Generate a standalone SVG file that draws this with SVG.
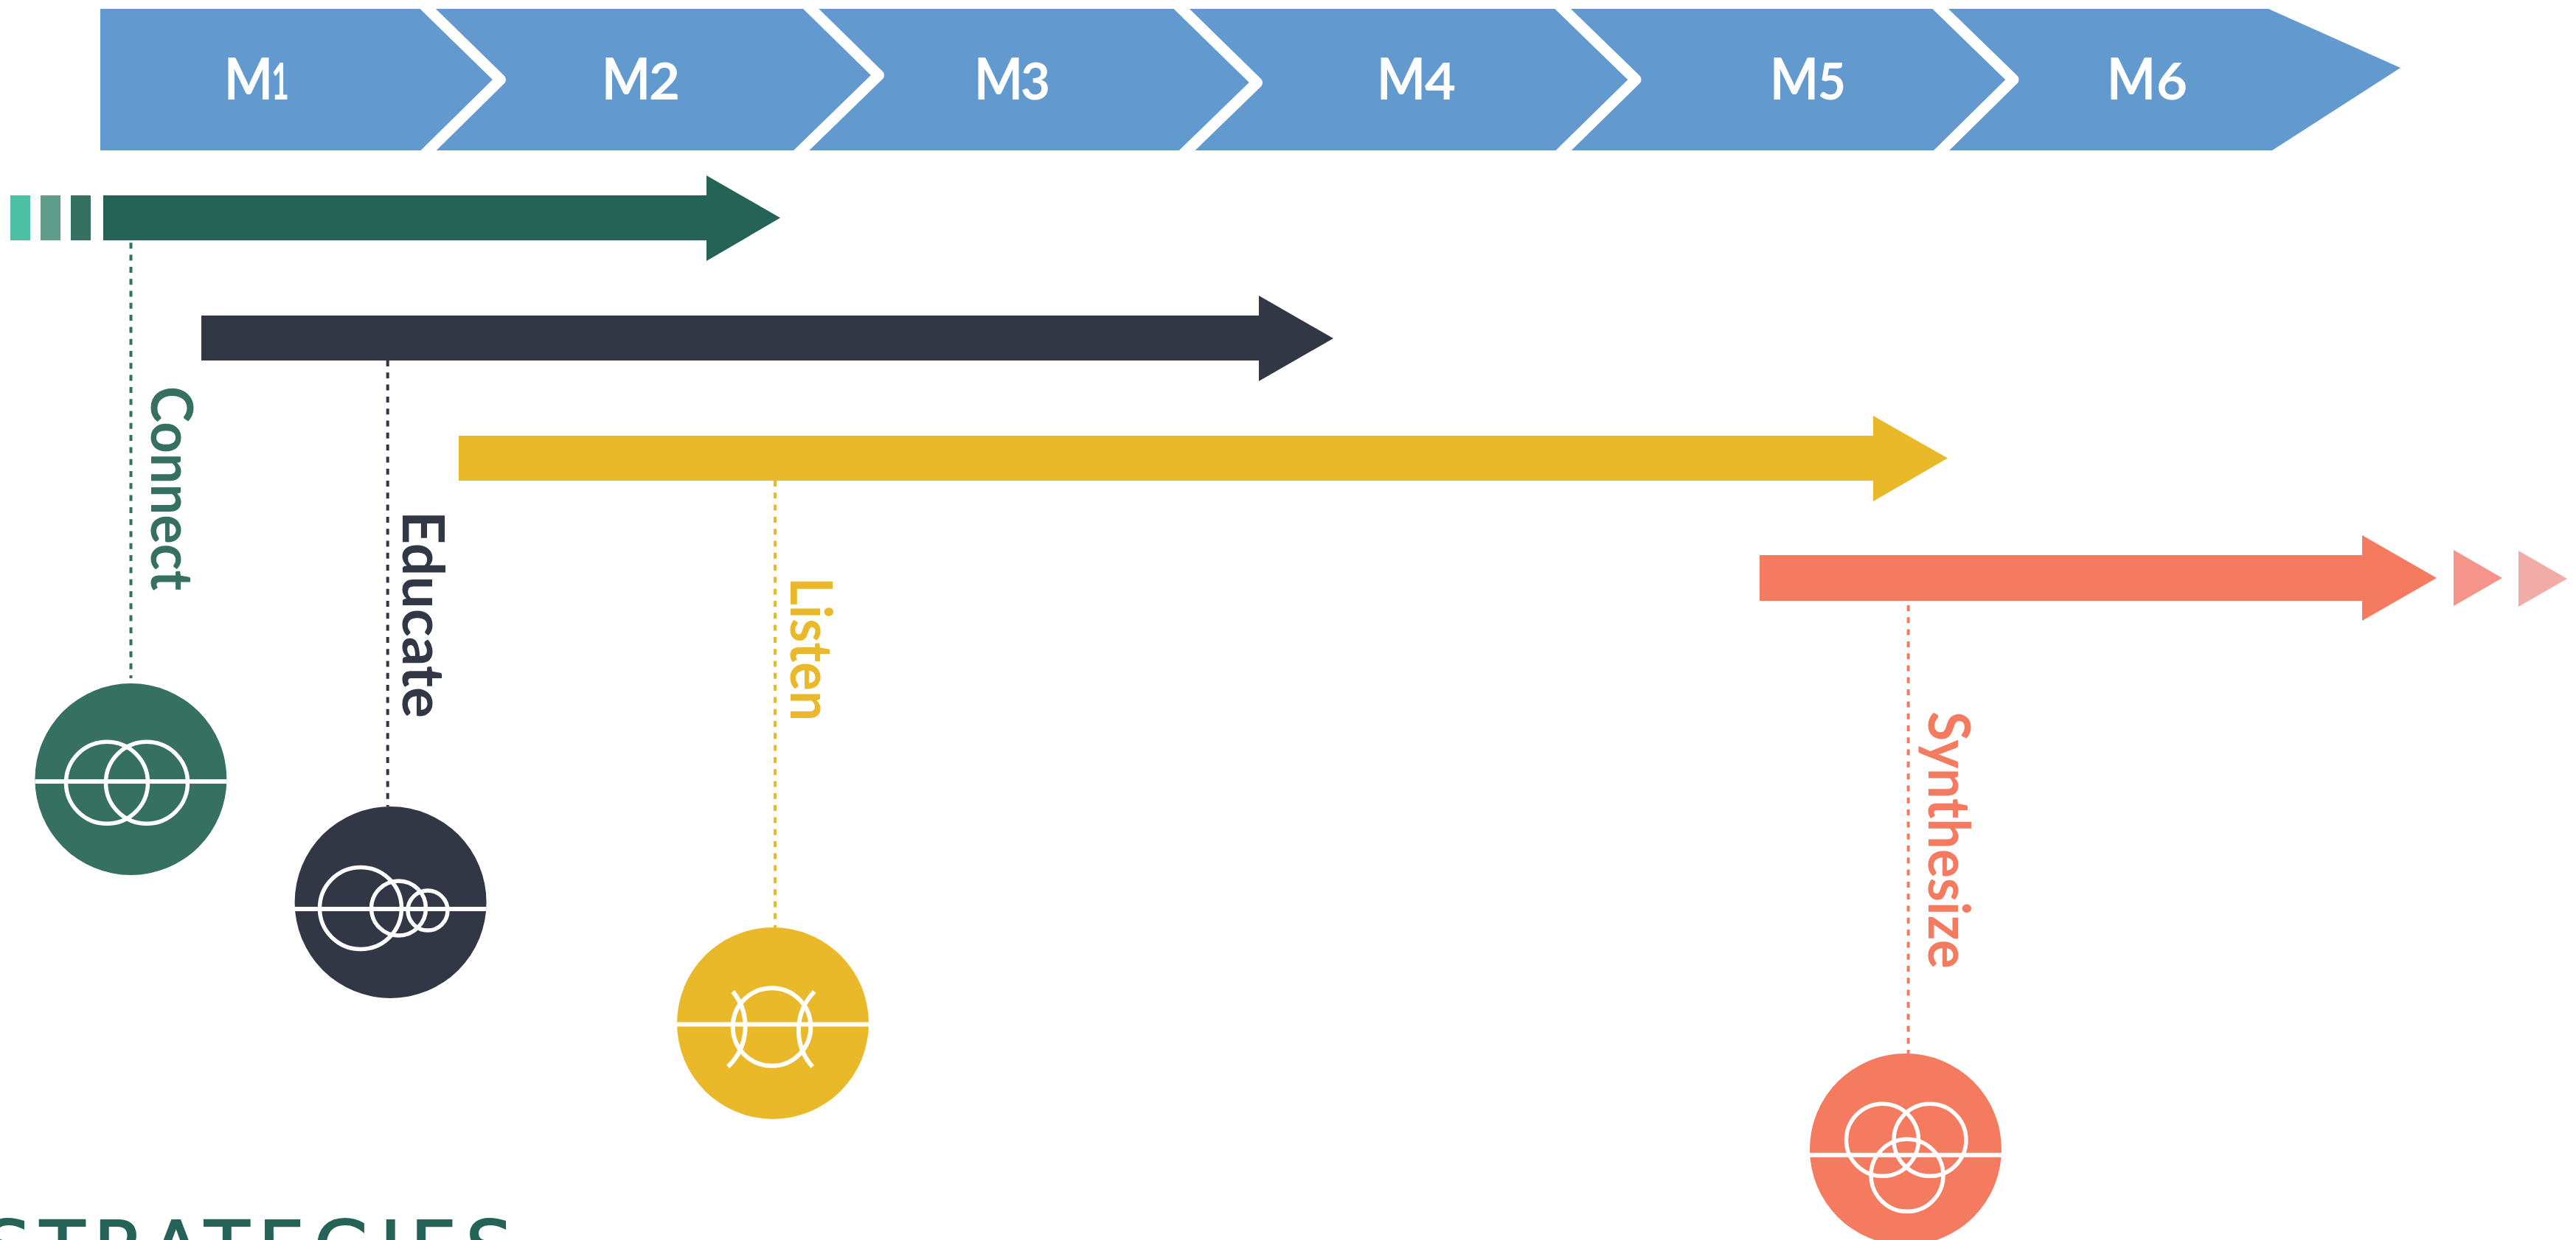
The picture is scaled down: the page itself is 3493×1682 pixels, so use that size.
<svg xmlns="http://www.w3.org/2000/svg" width="3493" height="1682" viewBox="0 0 3493 1682">
<style>
.seg{fill:#629ACF}
.sep{fill:none;stroke:#fff;stroke-width:15;stroke-linejoin:round}
.m{font-family:Lato,"Open Sans",sans-serif;font-weight:700;font-size:78px;fill:#fff}
.d{font-size:68px}
.lab{font-family:Lato,"Open Sans",sans-serif;font-weight:700;font-size:78px}
.ic{fill:none;stroke:#fff;stroke-width:5.5}
.bar{stroke:#fff;stroke-width:6}
.dash{fill:none;stroke-width:4;stroke-dasharray:8 8.3}
.green{fill:#357060}.dark{fill:#313744}.yellow{fill:#E9B929}.coral{fill:#F47A60}
</style>
<rect width="3493" height="1682" fill="#fff"/>
<g id="timeline">
<g id="m1"><polygon class="seg" points="136,12 579.5,12 678.5,108 581,204 136,204"/><text class="m"><tspan x="304" y="135" textLength="66" lengthAdjust="spacingAndGlyphs">M</tspan><tspan class="d" x="368" y="135" textLength="24" lengthAdjust="spacingAndGlyphs">1</tspan></text></g>
<g id="m2"><polygon class="seg" points="579.5,12 1099.5,12 1191.5,102 1086.5,204 581,204 678.5,108"/><text class="m"><tspan x="816" y="135" textLength="66" lengthAdjust="spacingAndGlyphs">M</tspan><tspan class="d" x="880" y="135" textLength="42" lengthAdjust="spacingAndGlyphs">2</tspan></text></g>
<g id="m3"><polygon class="seg" points="1099.5,12 1602,12 1704.5,112 1609.5,204 1086.5,204 1191.5,102"/><text class="m"><tspan x="1321" y="135" textLength="66" lengthAdjust="spacingAndGlyphs">M</tspan><tspan class="d" x="1384" y="135" textLength="40" lengthAdjust="spacingAndGlyphs">3</tspan></text></g>
<g id="m4"><polygon class="seg" points="1602,12 2119,12 2218,108 2120,204 1609.5,204 1704.5,112"/><text class="m"><tspan x="1867" y="135" textLength="66" lengthAdjust="spacingAndGlyphs">M</tspan><tspan class="d" x="1932" y="135" textLength="42" lengthAdjust="spacingAndGlyphs">4</tspan></text></g>
<g id="m5"><polygon class="seg" points="2119,12 2631,12 2730,108 2632.5,204 2120,204 2218,108"/><text class="m"><tspan x="2400" y="135" textLength="66" lengthAdjust="spacingAndGlyphs">M</tspan><tspan class="d" x="2465" y="135" textLength="38" lengthAdjust="spacingAndGlyphs">5</tspan></text></g>
<g id="m6"><polygon class="seg" points="2631,12 3076,12 3255,92 3081,204 2632.5,204 2730,108"/><text class="m"><tspan x="2857" y="135" textLength="66" lengthAdjust="spacingAndGlyphs">M</tspan><tspan class="d" x="2924" y="135" textLength="42" lengthAdjust="spacingAndGlyphs">6</tspan></text></g>
<g id="separators">
<polyline class="sep" points="573,5 678.5,108 574,211"/>
<polyline class="sep" points="1092.5,5 1191.5,102 1079.5,211"/>
<polyline class="sep" points="1595,5 1704.5,112 1602.5,211"/>
<polyline class="sep" points="2112,5 2218,108 2113,211"/>
<polyline class="sep" points="2624,5 2730,108 2625.5,211"/>
</g>
</g>
<g id="connectors">
<line class="dash" x1="177.5" y1="313" x2="177.5" y2="920" stroke="#357060"/>
<line class="dash" x1="525.7" y1="489" x2="525.7" y2="1094" stroke="#313744"/>
<line class="dash" x1="1051" y1="652" x2="1051" y2="1258" stroke="#E9B929"/>
<line class="dash" x1="2587.6" y1="821" x2="2587.6" y2="1429" stroke="#F47A60"/>
</g>
<g id="arrow-connect">
<rect x="14" y="265" width="27" height="61" fill="#4DBFA3"/>
<rect x="55" y="265" width="27" height="61" fill="#5F9C8A"/>
<rect x="96" y="265" width="27" height="61" fill="#357060"/>
<polygon fill="#246356" points="140,265 958,265 958,238 1058,295.5 958,354 958,326 140,326"/>
</g>
<g id="arrow-educate"><polygon class="dark" points="273,428 1707,428 1707,401 1808,459 1707,517 1707,489 273,489"/></g>
<g id="arrow-listen"><polygon class="yellow" points="622,591 2540,591 2540,564 2641,621.5 2540,680 2540,652 622,652"/></g>
<g id="arrow-synthesize">
<polygon class="coral" points="2386,753 3203,753 3203,726 3304,784 3203,842 3203,815 2386,815"/>
<polygon fill="#F4948A" points="3327,746 3393,784 3327,822"/>
<polygon fill="#F2ACA8" points="3415,747 3481,785 3415,823"/>
</g>
<g id="connect">
<text class="lab green" transform="translate(205,524) rotate(90)" textLength="277" lengthAdjust="spacingAndGlyphs">Connect</text>
<circle class="green" cx="177.4" cy="1057" r="130"/>
<line class="bar" x1="47.5" y1="1060" x2="307.5" y2="1060"/>
<circle class="ic" cx="145" cy="1061.7" r="55.5"/>
<circle class="ic" cx="199" cy="1061.7" r="55.5"/>
</g>
<g id="educate">
<text class="lab dark" transform="translate(546,693) rotate(90)" textLength="281" lengthAdjust="spacingAndGlyphs">Educate</text>
<circle class="dark" cx="529.6" cy="1224" r="130"/>
<line class="bar" x1="399.5" y1="1233" x2="659.5" y2="1233"/>
<circle class="ic" cx="489" cy="1232" r="55.5"/>
<circle class="ic" cx="540.5" cy="1232" r="37"/>
<circle class="ic" cx="580" cy="1235" r="27"/>
</g>
<g id="listen">
<text class="lab yellow" transform="translate(1072,783) rotate(90)" textLength="195" lengthAdjust="spacingAndGlyphs">Listen</text>
<circle class="yellow" cx="1048" cy="1388" r="130"/>
<line class="bar" x1="918" y1="1389.5" x2="1178" y2="1389.5"/>
<circle class="ic" cx="1046.5" cy="1393" r="52.8" style="stroke-width:6"/>
<path class="ic" style="stroke-width:6" d="M993.7 1345A75 75 0 0 1 987 1447M1104.3 1345A75 75 0 0 0 1101.7 1447"/>
</g>
<g id="synthesize">
<text class="lab coral" transform="translate(2615,965) rotate(90)" textLength="349" lengthAdjust="spacingAndGlyphs">Synthesize</text>
<circle class="coral" cx="2584" cy="1559" r="130"/>
<line class="bar" x1="2454" y1="1566.7" x2="2714" y2="1566.7"/>
<circle class="ic" cx="2552.5" cy="1546.3" r="49"/>
<circle class="ic" cx="2617" cy="1546.3" r="49"/>
<circle class="ic" cx="2586" cy="1594.3" r="49"/>
</g>
<text id="title" x="-21.5" y="1728" font-family="'DejaVu Sans',sans-serif" font-size="100" letter-spacing="12" fill="#246356" stroke="#246356" stroke-width="2">STRATEGIES</text>
</svg>
